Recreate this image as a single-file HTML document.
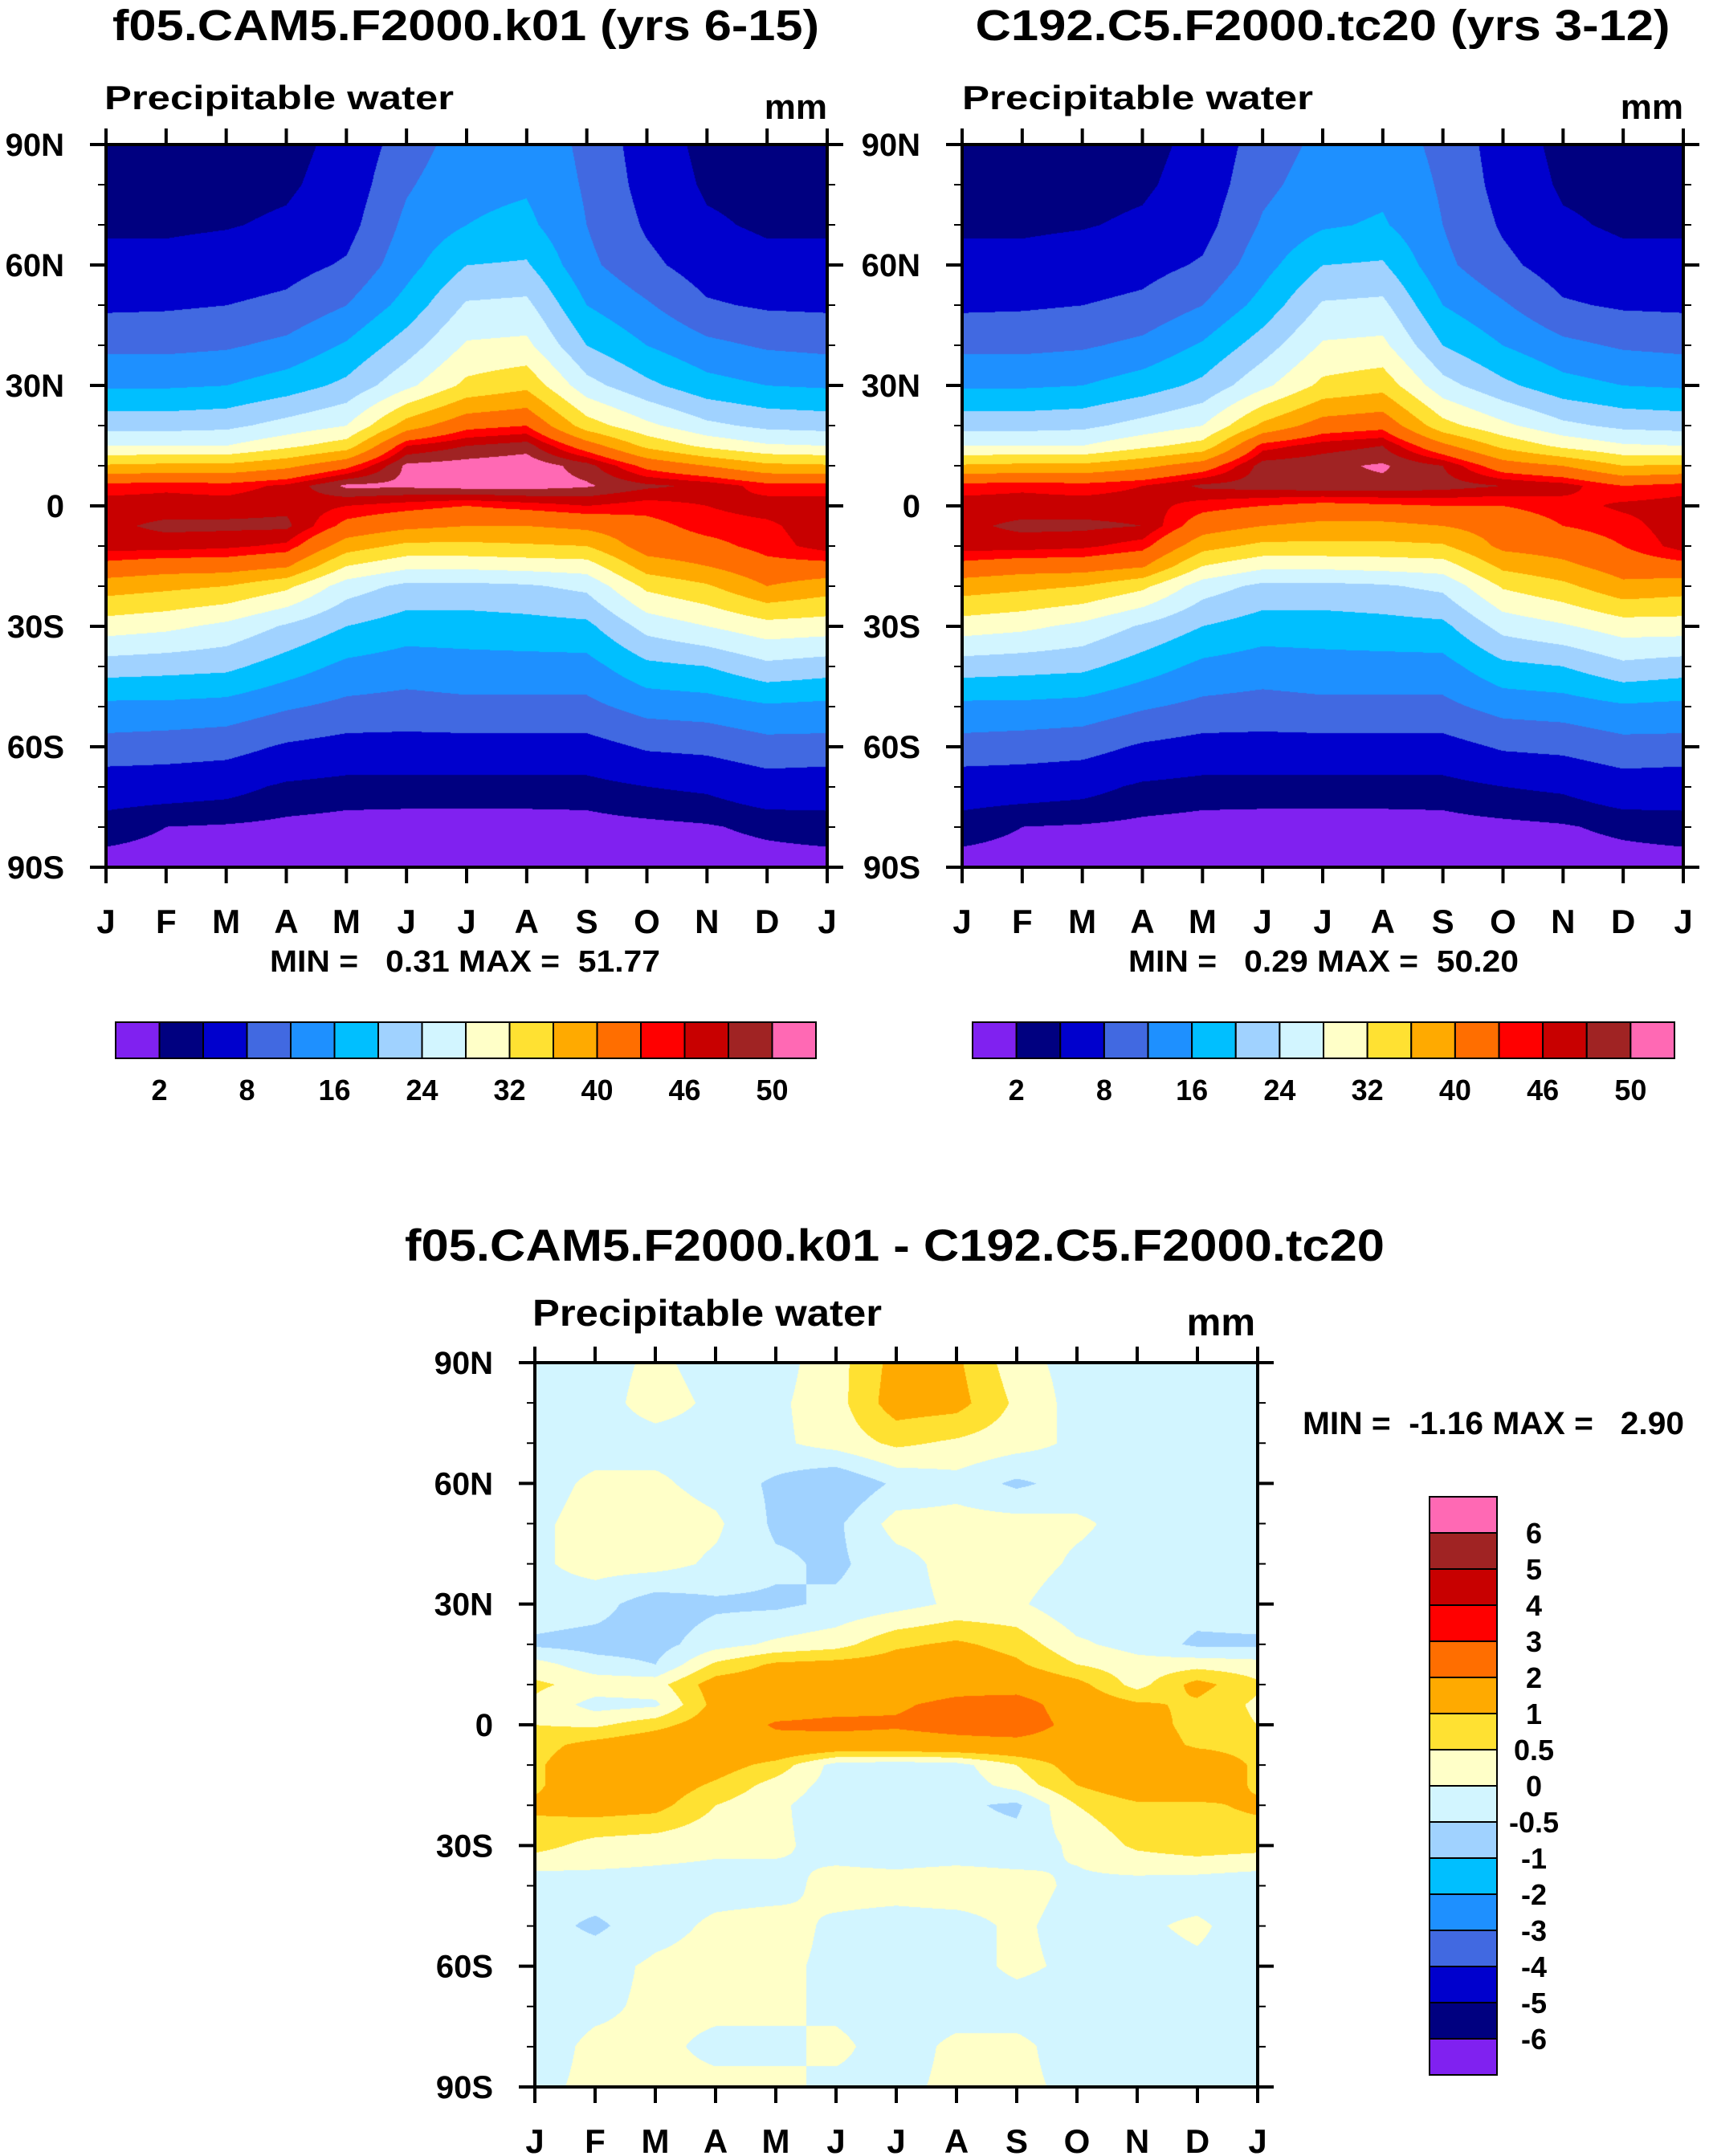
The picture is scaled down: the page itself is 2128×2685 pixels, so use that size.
<!DOCTYPE html>
<html><head><meta charset="utf-8">
<style>
html,body{margin:0;padding:0;background:#fff;}
#wrap{position:relative;width:2128px;height:2685px;overflow:hidden;background:#fff;}
canvas{position:absolute;}
svg{position:absolute;left:0;top:0;}
text{font-family:"Liberation Sans",Arial,sans-serif;font-weight:bold;fill:#000;white-space:pre;}
</style></head>
<body>
<div id="wrap">
<canvas id="c1" style="left:132px;top:180px" width="898" height="900"></canvas>
<canvas id="c2" style="left:1198px;top:180px" width="898" height="900"></canvas>
<canvas id="c3" style="left:666px;top:1697px" width="900" height="902"></canvas>
<svg id="ov" width="2128" height="2685"></svg>
</div>
<script>
// ---- data ----
const months = ["J","F","M","A","M","J","J","A","S","O","N","D","J"];
const lats = [90,80,70,60,50,40,30,20,15,10,5,0,-5,-10,-15,-20,-30,-40,-50,-60,-70,-80,-90];
const latTickLabels = ["90N","60N","30N","0","30S","60S","90S"];
const latTickValues = [90,60,30,0,-30,-60,-90];
const levelsPW = [2,4,8,12,16,20,24,28,32,36,40,44,46,48,50];
const levelLabelsPW = ["2","8","16","24","32","40","46","50"];
const levelsDiff = [-6,-5,-4,-3,-2,-1,-0.5,0,0.5,1,2,3,4,5,6];
const levelLabelsDiff = ["6","5","4","3","2","1","0.5","0","-0.5","-1","-2","-3","-4","-5","-6"];
const colors = ["#8021f0","#000080","#0000cd","#4169e1","#1e90ff","#00bfff","#a0d2ff","#d2f5ff","#ffffc8","#ffe132","#ffaa00","#ff6e00","#ff0000","#c80000","#a02323","#ff69b4"];
// CAM5 field: one row per month (J..D), values at lats
const cam5 = [
[2.5,3,3.5,5,7.3,11,15.5,22.5,28,36.5,45,47,47.5,47,43,38,30,22,15,10.5,5.5,3,1],
[2.5,3,3.5,5,7.5,11,15.5,22.5,28,37,45.5,47,48.5,47,42,37,29,21.5,15,10,5.5,2,1],
[2.5,3,3.8,5.5,8,11.5,16,23,28,37,45,47,48.5,46.5,42,36,27,21,14.5,9.5,5,1.8,0.8],
[3,3.5,4.5,6.5,9,13,18,25.5,31,39,46.5,47.5,48.5,45.5,40.5,33,23.5,18,12.5,7.5,3.5,1.5,0.7],
[5,5.5,6.5,8.5,12,16.5,21,28,34,43,50.5,46,43,38,32,26,20,15,11,6.5,3,1.3,0.6],
[10,11.5,13,14.5,17.5,22,27,38,46,50.5,50.5,45,41,35,29,23,18,14,10.5,6.5,3,1.2,0.5],
[14,15,16,20,24.5,28.5,33,43,48,51,51,44,40,35,29,23,18,14.5,11,6.5,3,1.2,0.5],
[15,15.5,17,20.5,25,29,35,44,49,51.5,51,45,40,35.5,29.5,23.5,18.5,14.5,11,6.5,3,1.2,0.5],
[11,11.5,12,13,16,20,25.5,34,42,49,50.3,46,41,36,30,25,19,14.5,11,6.5,3,1.3,0.6],
[6,6.5,7.5,9,12.5,16,21,29,35,43,48.5,45,43,42,38,33,25.5,19,13.5,8.5,4,1.5,0.7],
[3,3.5,4.5,6,8.5,13,17.5,25,31,40,47.5,46,45,43,40,35.5,28,20,14,9,4.5,1.8,0.8],
[2.5,3,3.5,5,7.5,11.5,16,23,28.5,37,45,47,45.5,45,43,40,30.5,23,15.5,10.5,6,2.5,1]
];
const c192 = [
[2.5,3,3.5,5,7.3,11,15.5,22.5,28,36.5,45,47,47.5,47,43,38,30,22,15,10.5,5.5,3,1],
[2.5,3,3.5,5,7.5,11,15.5,22.5,28,37,45.5,47,48.5,47,42,37,29,21.5,15,10,5.5,2,1],
[2.5,3,3.8,5.5,8,11.5,16,23,28,37,45,47,48.5,46.5,42,36,27,21,14.5,9.5,5,1.8,0.8],
[3,3.5,4.5,6.5,9,13,18,25.5,31,39,46,47,48,45,40.5,33,23.5,18,12.5,7.5,3.5,1.5,0.7],
[5,5.5,6.5,8.5,12,16.5,21,28,33.5,42,48.5,45,42,37.5,32,26,20,15,11,6.5,3,1.3,0.6],
[10,11,12.5,14.5,17.5,22,27,37,45,49,49,44,40,35,29,23,18,14,10.5,6.5,3,1.2,0.5],
[13,14,15.5,20,24.5,28.5,33,42,47,49.5,49.5,43,39,35,29,23,18,14.5,11,6.5,3,1.2,0.5],
[14,15,16.5,20.5,25,29,34.5,43,48,50.3,49.5,43.5,39,35,29.5,23.5,18.5,14.5,11,6.5,3,1.2,0.5],
[11,11.5,12,13,16,20,25.5,33.5,41,48,49,44,40,35.5,30,25,19,14.5,11,6.5,3,1.3,0.6],
[6,6.5,7.5,9,12.5,16,21,29,35,42,48,44,42,41,37,32.5,25.5,19,13.5,8.5,4,1.5,0.7],
[3,3.5,4.5,6,8.5,13,17.5,25,31,40,47,45,44,42,39,35,27.5,20,14,9,4.5,1.8,0.8],
[2.5,3,3.5,5,7.5,11.5,16,23,28.5,36,44,46.5,45,44,42,39,30,23,15.5,10.5,6,2.5,1]
];
// Difference field: one row per lat, values per month J..D
const diffRows = [
[-0.2,-0.2,0.1,-0.2,-0.2,0.3,1.2,1.1,0.2,-0.2,-0.2,-0.2],
[-0.2,-0.2,0.2,-0.1,-0.1,0.3,1.3,1.2,0.4,-0.2,-0.2,-0.2],
[-0.2,-0.2,-0.2,-0.2,-0.1,0.2,0.6,0.4,0.2,-0.1,-0.2,0],
[-0.2,0.1,0.1,-0.2,-0.6,-1.0,-0.4,-0.2,-0.6,-0.3,-0.2,-0.2],
[-0.1,0.2,0.3,0.1,-0.6,-0.6,0.2,0.2,0.2,0.1,-0.2,-0.2],
[-0.1,0.2,0.2,-0.1,-0.4,-0.6,-0.2,0.2,0.3,-0.1,-0.2,-0.2],
[-0.2,-0.3,-0.8,-0.6,-0.6,-0.4,-0.2,0.1,0.1,-0.4,-0.2,-0.3],
[-0.6,-0.7,-0.7,-0.2,0.1,0.3,0.9,1.1,0.8,0.1,-0.2,-0.6],
[0.2,-0.3,-0.5,0.6,1.1,1.2,1.3,1.4,1.1,0.5,0.2,0.3],
[0.6,0.3,0.3,1.3,1.4,1.5,1.5,1.7,1.6,1.2,0.3,1.2],
[0.4,-0.2,-0.1,1.2,1.5,1.7,1.9,2.2,2.4,1.5,1.1,0.9],
[0.5,0.4,0.8,1.4,2.1,2.2,2.1,2.3,2.5,1.7,1.3,0.8],
[0.8,1.2,1.5,1.6,1.7,1.6,1.6,1.7,1.7,1.6,1.4,0.9],
[0.9,1.5,1.5,1.3,0.8,-0.2,-0.3,-0.2,0.5,1.3,1.7,1.5],
[0.9,1.5,1.4,0.9,0.3,-0.2,-0.3,-0.3,0.2,1.0,1.5,1.5],
[1.1,1.3,1.2,0.5,0.1,-0.3,-0.3,-0.4,-0.6,0.5,0.9,0.9],
[0.7,0.3,0.2,0.1,0.1,-0.2,-0.3,-0.3,-0.3,0.1,0.6,0.8],
[-0.4,-0.2,-0.2,-0.2,-0.2,0.2,0.2,0.3,0.2,-0.1,-0.2,-0.3],
[-0.3,-0.6,-0.2,0.1,0.2,-0.1,-0.2,-0.2,0.1,-0.2,-0.1,0.1],
[-0.2,-0.2,0.1,0.2,0.1,-0.1,-0.2,-0.2,0.1,-0.1,-0.2,-0.1],
[-0.2,-0.1,0.1,0.1,0.1,-0.1,-0.2,-0.2,-0.2,-0.2,-0.2,-0.2],
[-0.2,0.1,0.1,-0.1,-0.1,0.1,-0.2,0.1,0.1,-0.2,-0.2,-0.2],
[-0.1,0.1,0.1,0.1,0.1,-0.1,-0.1,0.1,0.1,-0.1,-0.1,-0.1]
];

// ---- rendering helpers ----
function colorIndex(v, levels){let k=0;while(k<levels.length&&v>=levels[k])k++;return k;}
function hexRgb(h){return [parseInt(h.substr(1,2),16),parseInt(h.substr(3,2),16),parseInt(h.substr(5,2),16)];}
const rgbs = colors.map(hexRgb);
function sample(get, m, lat){
  let i0=Math.floor(m); if(i0>=12)i0=11; const fm=m-i0; const i1=(i0+1)%12;
  let j=0; while(j<lats.length-2 && lat<lats[j+1]) j++;
  const fl=(lats[j]-lat)/(lats[j]-lats[j+1]);
  const a=get(i0,j)*(1-fm)+get(i1,j)*fm;
  const b=get(i0,j+1)*(1-fm)+get(i1,j+1)*fm;
  return a*(1-fl)+b*fl;
}
function drawField(id, get, levels){
  const cv=document.getElementById(id), ctx=cv.getContext('2d');
  const W=cv.width,H=cv.height, img=ctx.createImageData(W,H);
  for(let y=0;y<H;y++){const lat=90-180*y/(H-1);
    for(let x=0;x<W;x++){const m=12*x/(W-1);
      const c=rgbs[colorIndex(sample(get,m,lat),levels)];
      const p=(y*W+x)*4; img.data[p]=c[0];img.data[p+1]=c[1];img.data[p+2]=c[2];img.data[p+3]=255;}}
  ctx.putImageData(img,0,0);
}
drawField('c1',(i,j)=>cam5[i][j],levelsPW);
drawField('c2',(i,j)=>c192[i][j],levelsPW);
drawField('c3',(i,j)=>diffRows[j][i],levelsDiff);

// ---- overlay ----
const NS='http://www.w3.org/2000/svg', ov=document.getElementById('ov');
function el(tag,attrs,parent){const e=document.createElementNS(NS,tag);for(const k in attrs)e.setAttribute(k,attrs[k]);(parent||ov).appendChild(e);return e;}
function txt(s,x,y,size,anchor,len,name,parent){const t=el('text',{x:x,y:y,'font-size':size,'text-anchor':anchor||'start'},parent);
  if(len){t.setAttribute('textLength',len);t.setAttribute('lengthAdjust','spacingAndGlyphs');}
  t.textContent=s;
  
  
  return t;}
function axes(px,py,w,h,name){
  const g=el('g',{});
  
  
  el('rect',{x:px,y:py,width:w,height:h,fill:'none',stroke:'#000','stroke-width':4},g);
  for(let i=0;i<=12;i++){const x=px+w*i/12;
    el('line',{x1:x,y1:py,x2:x,y2:py-20,stroke:'#000','stroke-width':4},g);
    el('line',{x1:x,y1:py+h,x2:x,y2:py+h+20,stroke:'#000','stroke-width':4},g);
    txt(months[i],x,py+h+82,42,'middle',null,'month-label',g);}
  for(let l=90;l>=-90;l-=10){const y=py+h*(90-l)/180, major=(l%30===0), L=major?20:10;
    el('line',{x1:px,y1:y,x2:px-L,y2:y,stroke:'#000','stroke-width':major?4:2},g);
    el('line',{x1:px+w,y1:y,x2:px+w+L,y2:y,stroke:'#000','stroke-width':major?4:2},g);}
  latTickValues.forEach((l,k)=>{const y=py+h*(90-l)/180;txt(latTickLabels[k],px-52,y+14,40,'end',null,'lat-label',g);});
}
function hbar(x,y,w,h,levels,labels,name){
  const g=el('g',{});
  
  
  const n=levels.length+1, bw=w/n;
  for(let i=0;i<n;i++) el('rect',{x:x+i*bw,y:y,width:bw,height:h,fill:colors[i],stroke:'#000','stroke-width':2},g);
  labels.forEach((s,k)=>txt(s,x+(2*k+1)*bw,y+h+52,36,'middle',null,'colorbar-label',g));
}
// top-left
txt("f05.CAM5.F2000.k01 (yrs 6-15)",580,50,54,'middle',880,'title-left');
txt("Precipitable water",130,136,42,'start',435,'subtitle-left');
txt("mm",1030,148,44,'end',null,'units-left');
axes(132,180,898,900,'axes-left');
txt("MIN =   0.31 MAX =  51.77",579,1210,38,'middle',486,'minmax-left');
hbar(144,1273,872,45,levelsPW,levelLabelsPW,'colorbar-left');
// top-right
txt("C192.C5.F2000.tc20 (yrs 3-12)",1647,50,54,'middle',865,'title-right');
txt("Precipitable water",1198,136,42,'start',437,'subtitle-right');
txt("mm",2096,148,44,'end',null,'units-right');
axes(1198,180,898,900,'axes-right');
txt("MIN =   0.29 MAX =  50.20",1648,1210,38,'middle',486,'minmax-right');
hbar(1211,1273,874,45,levelsPW,levelLabelsPW,'colorbar-right');
// bottom
txt("f05.CAM5.F2000.k01 - C192.C5.F2000.tc20",1114,1570,56,'middle',1220,'title-difference');
txt("Precipitable water",663,1651,46,'start',435,'subtitle-difference');
txt("mm",1563,1663,48,'end',null,'units-difference');
axes(666,1697,900,902,'axes-difference');
txt("MIN =  -1.16 MAX =   2.90",1622,1786,40,'start',475,'minmax-difference');
(function(){const g=el('g',{});
  
  
  const x=1780,y=1864,w=84,h=720,n=16,bh=h/n;
  for(let i=0;i<n;i++) el('rect',{x:x,y:y+i*bh,width:w,height:bh,fill:colors[n-1-i],stroke:'#000','stroke-width':2},g);
  levelLabelsDiff.forEach((s,k)=>txt(s,1910,y+(k+1)*bh+13,36,'middle',null,'colorbar-label',g));
})();
</script>
</body></html>
